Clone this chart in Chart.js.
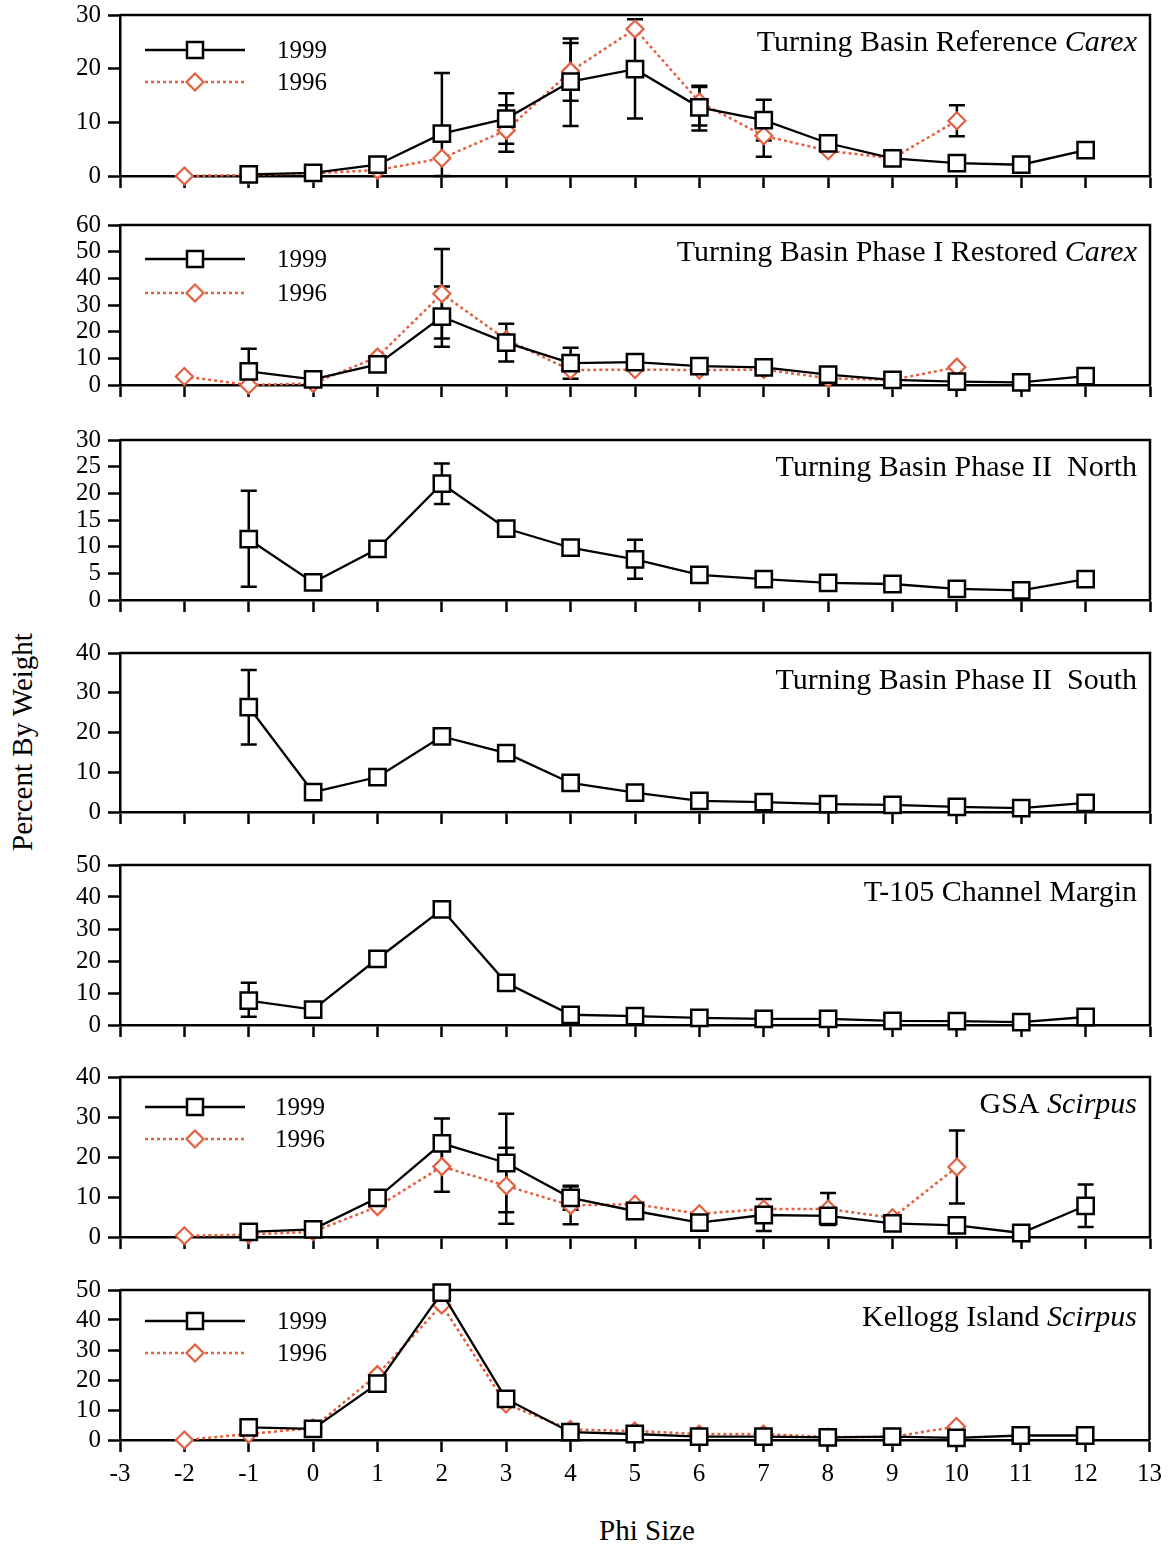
<!DOCTYPE html>
<html><head><meta charset="utf-8">
<script src="https://cdn.jsdelivr.net/npm/chart.js@4.4.0/dist/chart.umd.min.js"></script>
<style>
body{margin:0;background:#fff;width:1169px;height:1544px;position:relative;overflow:hidden;font-family:"Liberation Serif",serif;color:#000}
canvas{position:absolute;left:0}
.ytitle{position:absolute;left:22px;top:742px;transform:translate(-50%,-50%) rotate(-90deg);font-size:29px;white-space:nowrap}
.xtitle{position:absolute;left:647px;top:1530px;transform:translate(-50%,-50%);font-size:29px;white-space:nowrap}
</style></head><body>
<div class="ytitle">Percent By Weight</div>
<div class="xtitle">Phi Size</div>
<script>
// ---------- data ----------
const phi = [-2,-1,0,1,2,3,4,5,6,7,8,9,10,11,12];
const seriesNames = ['1999','1996'];

// Panel 1: Turning Basin Reference Carex
const refCarex1999   = [null,0.3,0.6,2.1,7.9,10.7,17.6,19.9,12.8,10.4,6.1,3.3,2.4,2.1,4.8];
const refCarex1999Lo = [null,null,null,null,0,6.0,9.3,10.7,8.5,6.6,null,null,null,null,null];
const refCarex1999Hi = [null,null,null,null,19.2,15.4,25.6,29.2,16.8,14.2,null,null,null,null,null];
const refCarex1996   = [0,0.2,0.5,1.1,3.3,8.5,19.5,27.4,13.8,7.5,4.7,3.3,10.3,null,null];
const refCarex1996Lo = [null,null,null,null,null,4.5,14.0,null,9.4,3.6,null,null,7.4,null,null];
const refCarex1996Hi = [null,null,null,null,null,13.2,24.8,null,16.6,11.4,null,null,13.2,null,null];

// Panel 2: Turning Basin Phase I Restored Carex
const phaseI1999   = [null,5.1,2.1,7.7,25.6,15.9,8.2,8.6,7.1,6.6,3.9,1.9,1.3,1.0,3.3];
const phaseI1999Lo = [null,0,null,null,14.3,8.8,2.3,null,null,null,null,null,null,null,null];
const phaseI1999Hi = [null,13.6,null,null,36.9,23.0,14.0,null,null,null,null,null,null,null,null];
const phaseI1996   = [3.2,0,0.6,10.5,34.2,17.0,5.6,5.8,5.6,5.8,2.5,1.9,6.7,null,null];
const phaseI1996Lo = [null,null,null,null,17.4,null,null,null,null,null,null,null,null,null,null];
const phaseI1996Hi = [null,null,null,null,51.0,null,null,null,null,null,null,null,null,null,null];

// Panel 3: Turning Basin Phase II North
const north1999   = [null,11.4,3.3,9.6,21.8,13.4,9.8,7.6,4.7,3.9,3.2,3.0,2.1,1.8,3.9];
const north1999Lo = [null,2.5,null,null,18.0,null,null,4.0,null,null,null,null,null,null,null];
const north1999Hi = [null,20.5,null,null,25.6,null,null,11.3,null,null,null,null,null,null,null];

// Panel 4: Turning Basin Phase II South
const south1999   = [null,26.4,5.0,8.8,19.0,14.8,7.3,4.9,2.8,2.5,2.0,1.8,1.3,1.0,2.3];
const south1999Lo = [null,17.0,null,null,null,null,null,null,null,null,null,null,null,null,null];
const south1999Hi = [null,35.7,null,null,null,null,null,null,null,null,null,null,null,null,null];

// Panel 5: T-105 Channel Margin
const t105_1999   = [null,7.6,4.8,20.7,36.1,13.2,3.2,2.8,2.2,1.9,1.9,1.3,1.2,0.9,2.5];
const t105_1999Lo = [null,2.6,null,null,null,null,null,null,null,null,null,null,null,null,null];
const t105_1999Hi = [null,13.2,null,null,null,null,null,null,null,null,null,null,null,null,null];

// Panel 6: GSA Scirpus
const gsa1999   = [null,1.3,1.9,9.8,23.4,18.5,9.8,6.5,3.6,5.5,5.3,3.4,2.9,1.0,7.8];
const gsa1999Lo = [null,null,null,null,17.2,6.2,6.8,null,null,1.5,null,null,null,null,2.5];
const gsa1999Hi = [null,null,null,null,29.6,30.8,12.8,null,null,9.5,null,null,null,null,13.1];
const gsa1996   = [0.3,0.6,1.3,7.6,17.6,12.8,7.9,8.2,5.8,7.0,7.0,4.8,17.5,null,null];
const gsa1996Lo = [null,null,null,null,11.3,3.3,3.2,null,null,null,3.0,null,8.4,null,null];
const gsa1996Hi = [null,null,null,null,23.9,22.3,12.6,null,null,null,11.0,null,26.6,null,null];

// Panel 7: Kellogg Island Scirpus
const kellogg1999 = [null,4.2,3.7,18.8,49.1,13.7,2.6,2.0,1.1,1.1,0.9,1.1,0.7,1.5,1.5];
const kellogg1996 = [0,2.0,4.0,21.8,45.0,12.0,3.5,3.0,2.0,2.0,1.0,1.0,4.5,null,null];

const titlesPlain  = ['Turning Basin Reference ','Turning Basin Phase I Restored ','Turning Basin Phase II  North','Turning Basin Phase II  South','T-105 Channel Margin','GSA ','Kellogg Island '];
const titlesItalic = ['Carex','Carex','','','','Scirpus','Scirpus'];
const yMaxes = [30,60,30,40,50,40,50];
const ySteps = [10,10,5,10,10,10,10];

// ---------- layout ----------
const panelTop    = [15,225,440,653,865,1077,1290];
const panelBottom = [176,385,600,812,1025,1237,1440];
const legendRows  = [[35,67],[34,68],null,null,null,[30,62],[31,63]];
const legendTextX = [277,277,0,0,0,275,277];
const PADT = 30, XH = 58, LEFT = 120, RIGHT = 1150, W = 1169;
const ORANGE = '#e35f3f';
const FONT = '"Liberation Serif", "Times New Roman", serif';

const panels = [
  {s:[[refCarex1999,refCarex1999Lo,refCarex1999Hi],[refCarex1996,refCarex1996Lo,refCarex1996Hi]]},
  {s:[[phaseI1999,phaseI1999Lo,phaseI1999Hi],[phaseI1996,phaseI1996Lo,phaseI1996Hi]]},
  {s:[[north1999,north1999Lo,north1999Hi]]},
  {s:[[south1999,south1999Lo,south1999Hi]]},
  {s:[[t105_1999,t105_1999Lo,t105_1999Hi]]},
  {s:[[gsa1999,gsa1999Lo,gsa1999Hi],[gsa1996,gsa1996Lo,gsa1996Hi]]},
  {s:[[kellogg1999,null,null],[kellogg1996,null,null]]}
];

function pts(arr){ return phi.map((x,i)=>({x:x,y:arr[i]})).filter(p=>p.y!==null); }

function drawSquare(ctx,x,y){ ctx.save(); ctx.fillStyle='#fff'; ctx.strokeStyle='#000'; ctx.lineWidth=2.5; ctx.beginPath(); ctx.rect(x-8,y-8,16,16); ctx.fill(); ctx.stroke(); ctx.restore(); }
function drawDiamond(ctx,x,y){ ctx.save(); ctx.fillStyle='#fff'; ctx.strokeStyle=ORANGE; ctx.lineWidth=2.2; ctx.beginPath(); ctx.moveTo(x,y-8.5); ctx.lineTo(x+8.5,y); ctx.lineTo(x,y+8.5); ctx.lineTo(x-8.5,y); ctx.closePath(); ctx.fill(); ctx.stroke(); ctx.restore(); }

function makePanel(i){
  const H = panelBottom[i]-panelTop[i];
  const cv = document.createElement('canvas');
  cv.width = W; cv.height = PADT + H + XH;
  cv.style.top = (panelTop[i]-PADT)+'px';
  document.body.appendChild(cv);
  const isLast = i===6;
  const p = panels[i];
  const datasets = [];
  p.s.forEach((s,k)=>{
    if(k===0){
      datasets.push({label:seriesNames[0],data:pts(s[0]),borderColor:'#000',borderWidth:2.3,pointStyle:'rect',pointRadius:11.5,pointHoverRadius:11.5,pointBorderWidth:2.5,pointBackgroundColor:'#fff',pointBorderColor:'#000',clip:false,order:0});
    } else {
      datasets.push({label:seriesNames[1],data:pts(s[0]),borderColor:ORANGE,borderWidth:2.5,borderDash:[3,3],pointStyle:'rectRot',pointRadius:8.5,pointHoverRadius:8.5,pointBorderWidth:2.2,pointBackgroundColor:'#fff',pointBorderColor:ORANGE,clip:false,order:1});
    }
  });
  const plugin = {
    id:'panelDeco'+i,
    beforeDatasetsDraw(chart){
      const ctx = chart.ctx, a = chart.chartArea, xs = chart.scales.x, ys = chart.scales.y;
      ctx.save();
      ctx.strokeStyle='#000'; ctx.lineWidth=2.5;
      ctx.beginPath(); ctx.moveTo(a.left,a.top); ctx.lineTo(a.right,a.top); ctx.lineTo(a.right,a.bottom); ctx.stroke();
      // error bars
      p.s.forEach(s=>{
        const lo=s[1], hi=s[2]; if(!lo) return;
        phi.forEach((x,j)=>{
          if(lo[j]===null||hi[j]===null) return;
          const px = xs.getPixelForValue(x), y1=ys.getPixelForValue(lo[j]), y2=ys.getPixelForValue(hi[j]);
          ctx.beginPath(); ctx.moveTo(px,y1); ctx.lineTo(px,y2);
          ctx.moveTo(px-8,y1); ctx.lineTo(px+8,y1);
          ctx.moveTo(px-8,y2); ctx.lineTo(px+8,y2);
          ctx.stroke();
        });
      });
      ctx.restore();
    },
    afterDraw(chart){
      const ctx = chart.ctx, a = chart.chartArea;
      ctx.save();
      ctx.fillStyle='#000';
      ctx.textBaseline='alphabetic';
      const base = a.top + 36;
      ctx.font = 'italic 30px '+FONT;
      const wi = ctx.measureText(titlesItalic[i]).width;
      ctx.font = '30px '+FONT;
      const wp = ctx.measureText(titlesPlain[i]).width;
      const xr = 1137;
      ctx.textAlign='left';
      ctx.fillText(titlesPlain[i], xr-wi-wp, base);
      if(titlesItalic[i]){ ctx.font='italic 30px '+FONT; ctx.fillText(titlesItalic[i], xr-wi, base); }
      // legend
      const lr = legendRows[i];
      if(lr){
        const y1 = a.top+lr[0], y2 = a.top+lr[1];
        ctx.strokeStyle='#000'; ctx.lineWidth=2.3; ctx.setLineDash([]);
        ctx.beginPath(); ctx.moveTo(145,y1); ctx.lineTo(245,y1); ctx.stroke();
        drawSquare(ctx,195,y1);
        ctx.strokeStyle=ORANGE; ctx.lineWidth=2.5; ctx.setLineDash([3,3]);
        ctx.beginPath(); ctx.moveTo(145,y2); ctx.lineTo(245,y2); ctx.stroke();
        ctx.setLineDash([]);
        drawDiamond(ctx,195,y2);
        ctx.fillStyle='#000'; ctx.font='25px '+FONT; ctx.textBaseline='middle'; ctx.textAlign='left';
        ctx.fillText(seriesNames[0], legendTextX[i], y1+1);
        ctx.fillText(seriesNames[1], legendTextX[i], y2+1);
      }
      ctx.restore();
    }
  };
  new Chart(cv,{
    type:'line',
    data:{datasets:datasets},
    options:{
      responsive:false, animation:false, devicePixelRatio:1,
      layout:{padding:{top:PADT,right:W-RIGHT,left:0,bottom:0}},
      plugins:{legend:{display:false},tooltip:{enabled:false}},
      elements:{line:{tension:0}},
      scales:{
        x:{type:'linear',min:-3,max:13,
           ticks:{stepSize:1,display:isLast,autoSkip:false,maxRotation:0,padding:7,color:'#000',font:{family:FONT,size:25}},
           grid:{drawOnChartArea:false,drawTicks:true,tickLength:12,tickWidth:2.5,tickColor:'#000'},
           border:{display:true,color:'#000',width:2.5},
           afterFit(s){ s.height = XH; }},
        y:{min:0,max:yMaxes[i],
           ticks:{stepSize:ySteps[i],autoSkip:false,padding:7,color:'#000',font:{family:FONT,size:25}},
           grid:{drawOnChartArea:false,drawTicks:true,tickLength:12,tickWidth:2.5,tickColor:'#000'},
           border:{display:true,color:'#000',width:2.5},
           afterFit(s){ s.width = LEFT; }}
      }
    },
    plugins:[plugin]
  });
}
for(let i=0;i<7;i++) makePanel(i);
</script>
</body></html>
